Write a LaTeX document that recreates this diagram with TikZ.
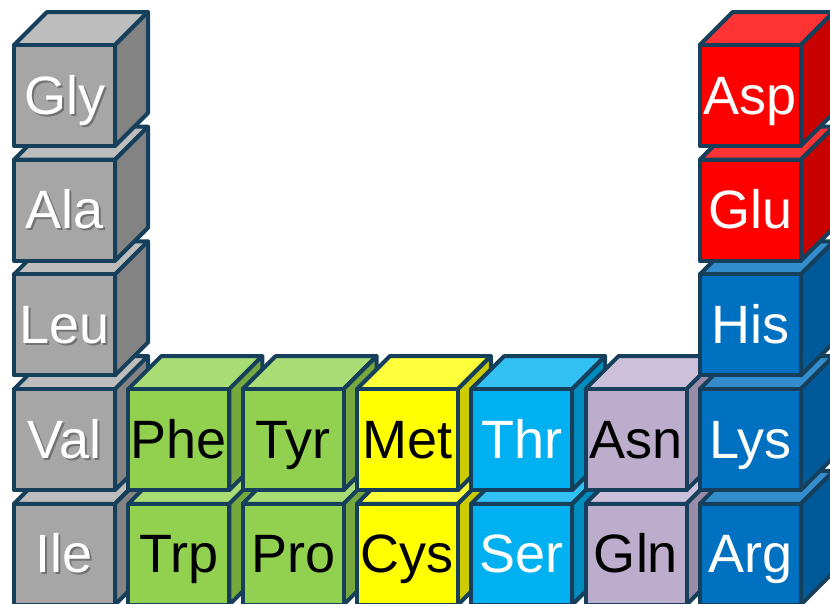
\documentclass[tikz,border=0pt]{standalone}
\usepackage{fontspec}
\setmainfont{Liberation Sans}
\usepackage{xcolor}
\definecolor{edge}{HTML}{153F5A}
\definecolor{gy-f}{HTML}{A6A6A6}\definecolor{gy-t}{HTML}{BDBDBD}\definecolor{gy-s}{HTML}{838383}
\definecolor{gn-f}{HTML}{92D050}\definecolor{gn-t}{HTML}{A9DC74}\definecolor{gn-s}{HTML}{76A83E}
\definecolor{yl-f}{HTML}{FFFF00}\definecolor{yl-t}{HTML}{FFFF3B}\definecolor{yl-s}{HTML}{CCCC00}
\definecolor{cy-f}{HTML}{00B0F0}\definecolor{cy-t}{HTML}{33C0F3}\definecolor{cy-s}{HTML}{008DC0}
\definecolor{lv-f}{HTML}{BCADCC}\definecolor{lv-t}{HTML}{CCC0DA}\definecolor{lv-s}{HTML}{9A8CA8}
\definecolor{rd-f}{HTML}{FF0000}\definecolor{rd-t}{HTML}{FF3333}\definecolor{rd-s}{HTML}{C80000}
\definecolor{bl-f}{HTML}{0070C0}\definecolor{bl-t}{HTML}{338DCD}\definecolor{bl-s}{HTML}{005A9A}
% grey drop shadow under a label (only when #1 is 1)
\newcommand{\txtsh}[2]{\ifnum#1=1 \rlap{\kern2pt\raisebox{-2pt}{\color{black!55}#2}}\fi}

\begin{document}
\begin{tikzpicture}[x=1pt,y=-1pt,
    face/.style={draw=edge,line width=4pt,line join=round},
    lbl/.style={font=\fontsize{54}{60}\selectfont,anchor=base,inner sep=0pt}]
  \useasboundingbox (0,0) rectangle (830,603);
  % Cubes, bottom row first so the upper ones overlap
  \foreach \lab/\cl/\tc/\sh/\i/\j in {
      Ile/gy/white/1/0/4, Trp/gn/black/0/1/4, Pro/gn/black/0/2/4, Cys/yl/black/0/3/4,
      Ser/cy/white/0/4/4, Gln/lv/black/0/5/4, Arg/bl/white/0/6/4,
      Val/gy/white/1/0/3, Phe/gn/black/0/1/3, Tyr/gn/black/0/2/3, Met/yl/black/0/3/3,
      Thr/cy/white/0/4/3, Asn/lv/black/0/5/3, Lys/bl/white/0/6/3,
      Leu/gy/white/1/0/2, His/bl/white/0/6/2,
      Ala/gy/white/1/0/1, Glu/rd/white/0/6/1,
      Gly/gy/white/1/0/0, Asp/rd/white/0/6/0}{
    \pgfmathsetmacro\bx{14+114.3*\i}
    \pgfmathsetmacro\by{45+114.7*\j}
    \draw[face,fill=\cl-t] (\bx,\by) -- ++(33,-33) -- ++(101,0) -- ++(-33,33) -- cycle;
    \draw[face,fill=\cl-s] (\bx+101,\by) -- ++(33,-33) -- ++(0,101) -- ++(-33,33) -- cycle;
    \draw[face,fill=\cl-f] (\bx,\by) rectangle ++(101,101);
    \node[lbl,text=\tc] (\lab) at (\bx+50.5,\by+69) {\txtsh{\sh}{\lab}\lab};
  }
\end{tikzpicture}
\end{document}
